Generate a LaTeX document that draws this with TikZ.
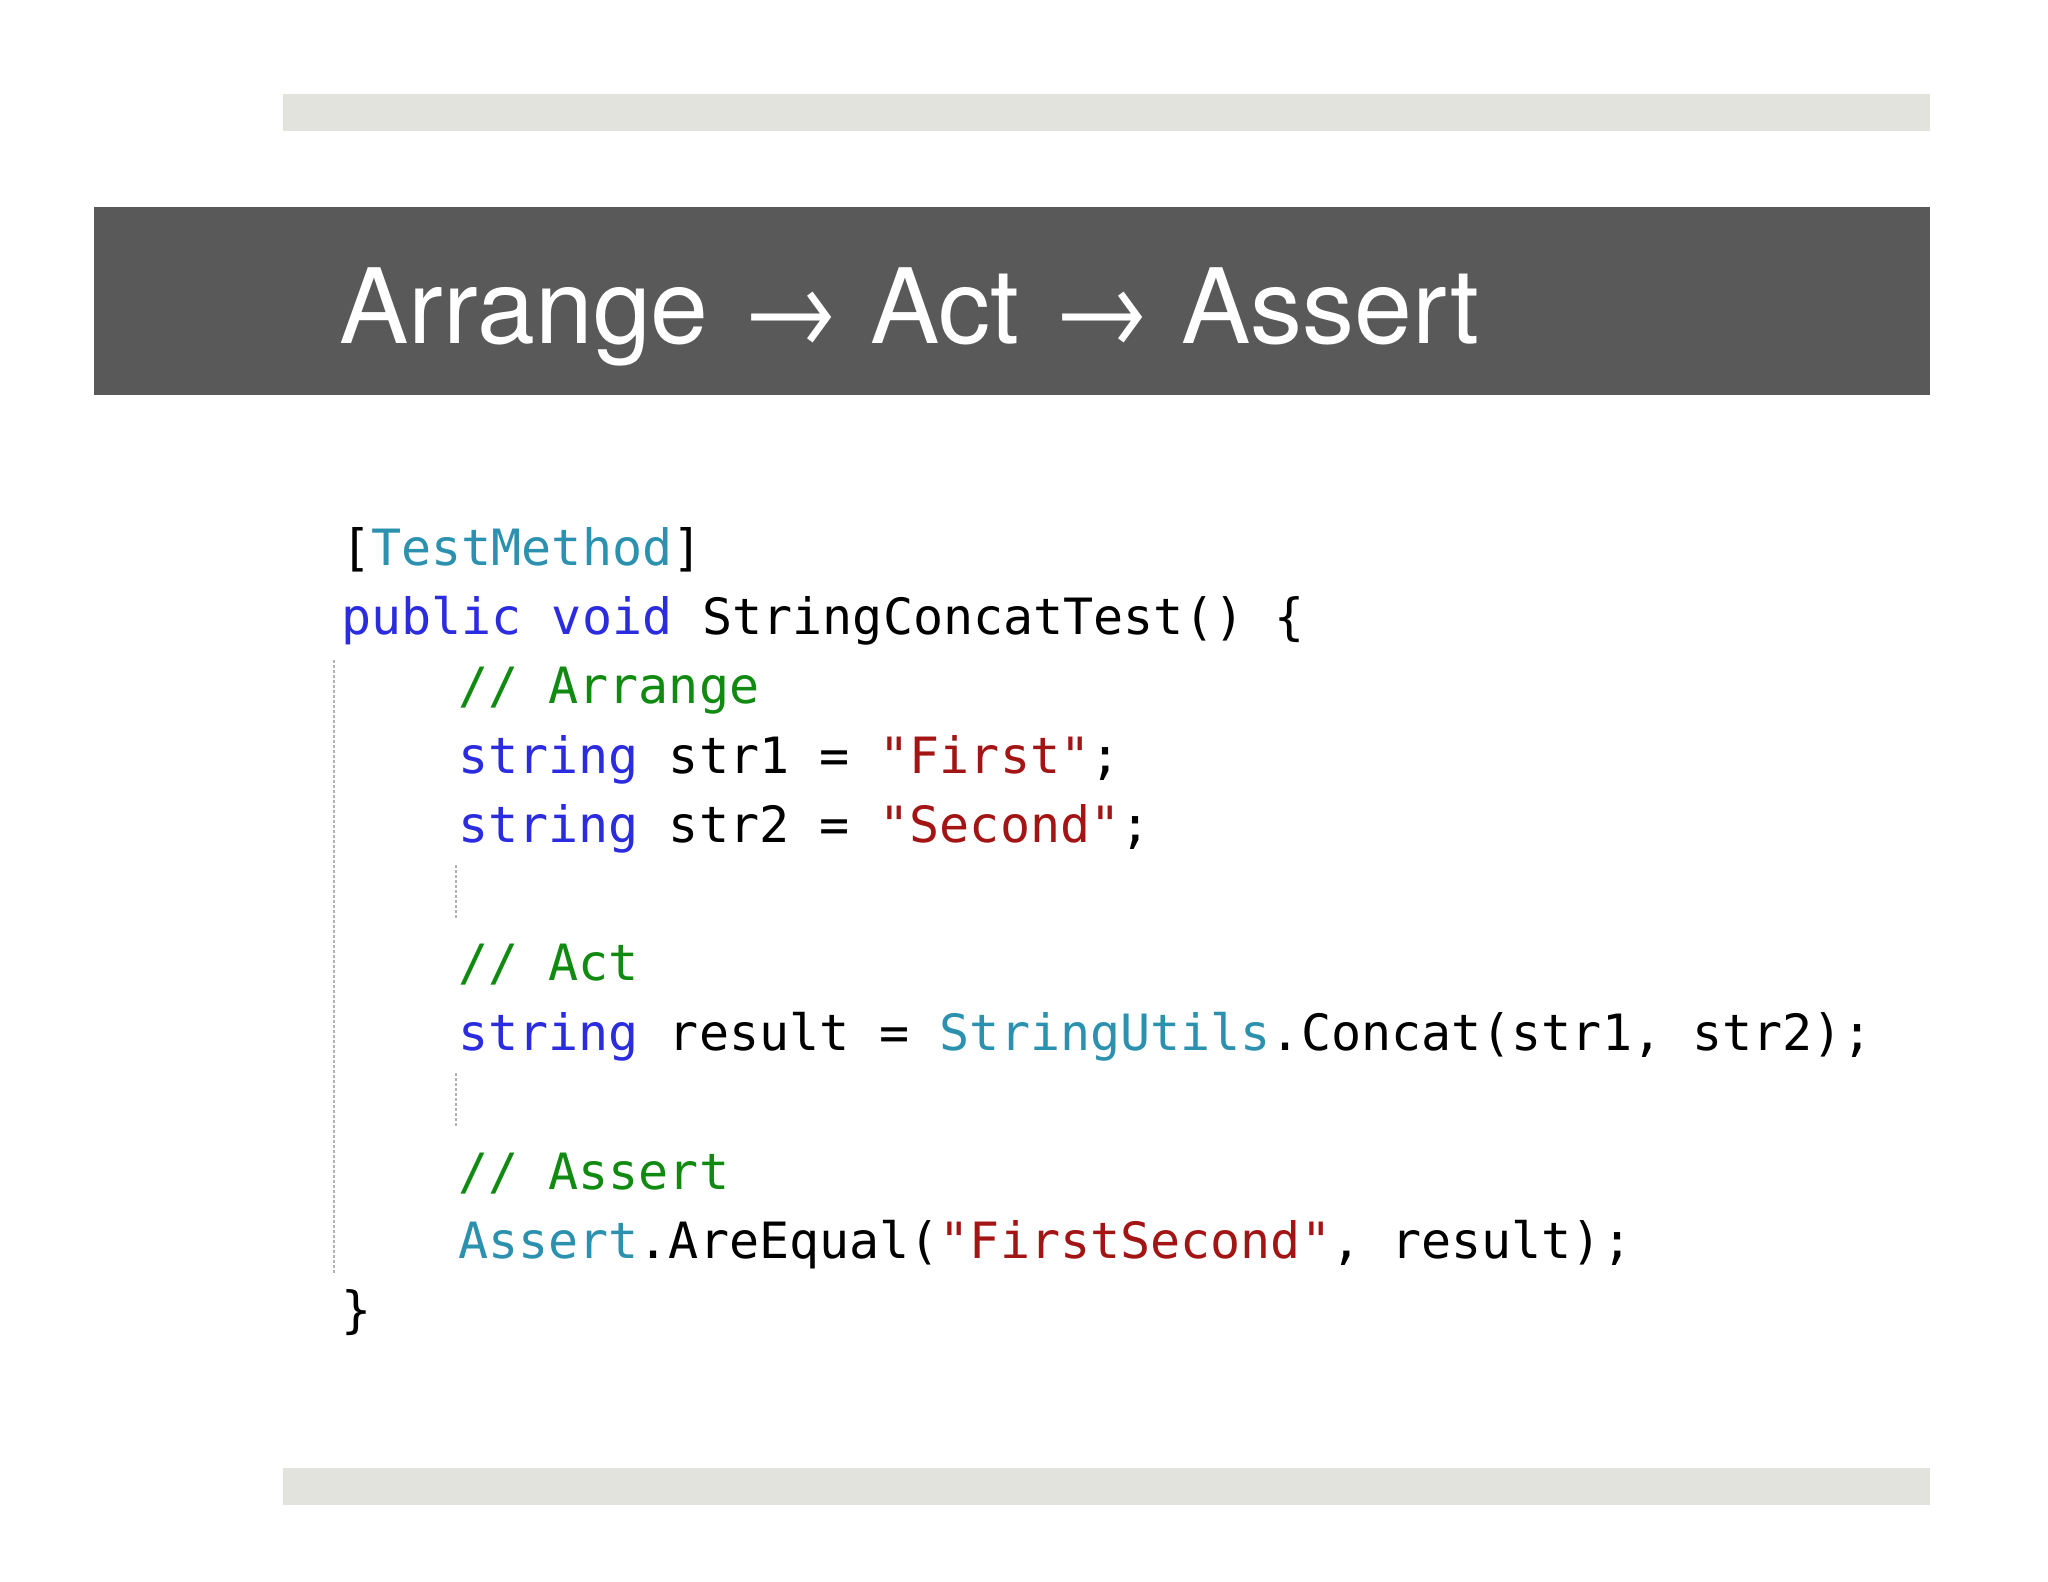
\documentclass[tikz,border=0pt]{standalone}
\usepackage{fontspec}
\setmainfont{TeX Gyre Heros}
\newfontfamily\codefont{DejaVu Sans Mono}
\begin{document}
\begin{tikzpicture}[x=1pt,y=-1pt,
  code/.style={anchor=base west,inner sep=0pt,font=\codefont\fontsize{50}{50}\selectfont},
  dotln/.style={draw=gray!60,line width=2.5pt,dash pattern=on 2.5pt off 2.5pt}]
\definecolor{kw}{HTML}{2B2BE0}
\definecolor{ty}{HTML}{2B91AF}
\definecolor{cm}{HTML}{108A10}
\definecolor{st}{HTML}{A31515}
\definecolor{barg}{HTML}{E3E3DE}
\definecolor{dark}{HTML}{595959}
\useasboundingbox (0,0) rectangle (2048,1582);
\fill[white] (0,0) rectangle (2048,1582);
\fill[barg] (283,94) rectangle (1930,131);
\fill[dark] (94,207) rectangle (1930,395);
\fill[barg] (283,1468) rectangle (1930,1505);
\node[anchor=base west,inner sep=0pt,text=white,font=\fontsize{104}{104}\selectfont] (title) at (339,343) {Arrange → Act → Assert};
\draw[dotln] (334,660) -- (334,1275);
\draw[dotln] (456,865) -- (456,918);
\draw[dotln] (456,1073) -- (456,1126);
\node[code] (l1) at (341,565) {[\textcolor{ty}{TestMethod}]};
\node[code] (l2) at (341,634) {\textcolor{kw}{public} \textcolor{kw}{void} StringConcatTest() \{};
\node[code] (l3) at (458,703) {\textcolor{cm}{// Arrange}};
\node[code] (l4) at (458,773) {\textcolor{kw}{string} str1 = \textcolor{st}{"First"};};
\node[code] (l5) at (458,842) {\textcolor{kw}{string} str2 = \textcolor{st}{"Second"};};
\node[code] (l6) at (458,980) {\textcolor{cm}{// Act}};
\node[code] (l7) at (458,1050) {\textcolor{kw}{string} result = \textcolor{ty}{StringUtils}.Concat(str1, str2);};
\node[code] (l8) at (458,1189) {\textcolor{cm}{// Assert}};
\node[code] (l9) at (458,1258) {\textcolor{ty}{Assert}.AreEqual(\textcolor{st}{"FirstSecond"}, result);};
\node[code] (l10) at (341,1327) {\}};
\end{tikzpicture}
\end{document}
